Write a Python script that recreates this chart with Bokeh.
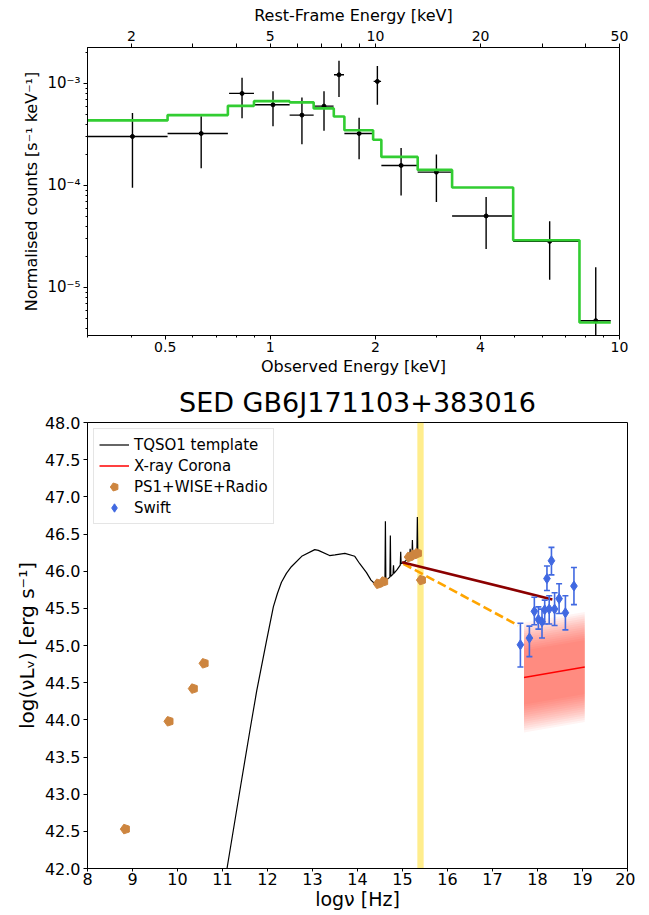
import numpy as np
from bokeh.plotting import figure
from bokeh.models import (ColumnDataSource, LogAxis, Range1d, FixedTicker, CustomJSTickFormatter,
                          Whisker, TeeHead, BoxAnnotation, Legend, LegendItem, LogScale,
                          NumeralTickFormatter)
from bokeh.layouts import column
from bokeh.embed import file_html
from bokeh.resources import INLINE

FONT = "DejaVu Sans"

# ---------------- top panel data (X-ray spectrum) ----------------
e_cen = [0.403, 0.634, 0.830, 1.018, 1.232, 1.425, 1.573, 1.796, 2.026, 2.369, 2.99, 4.15, 6.31, 8.55]
e_lo = [0.30, 0.508, 0.762, 0.898, 1.136, 1.331, 1.522, 1.63, 1.977, 2.08, 2.643, 3.316, 4.96, 7.68]
e_hi = [0.508, 0.756, 0.898, 1.136, 1.331, 1.518, 1.626, 1.964, 2.076, 2.643, 3.316, 4.96, 7.68, 9.44]
cts = [3.02e-4, 3.23e-4, 7.98e-4, 6.17e-4, 4.89e-4, 5.99e-4, 1.215e-3, 3.23e-4, 1.047e-3,
       1.57e-4, 1.35e-4, 5.02e-5, 2.83e-5, 4.72e-6]
cts_hi = [5.14e-4, 4.78e-4, 1.135e-3, 8.4e-4, 7.29e-4, 8.4e-4, 1.667e-3, 4.6e-4, 1.48e-3,
          2.33e-4, 2.01e-4, 7.7e-5, 4.45e-5, 1.58e-5]
cts_lo = [9.5e-5, 1.47e-4, 4.56e-4, 3.81e-4, 2.54e-4, 3.43e-4, 7.38e-4, 1.81e-4, 6.17e-4,
          7.96e-5, 6.89e-5, 2.38e-5, 1.19e-5, 1.0e-6]
model_edges = [0.30, 0.508, 0.756, 0.898, 1.136, 1.331, 1.52, 1.63, 1.97, 2.08, 2.643, 3.316, 4.96, 7.68, 9.44]
model_vals = [4.34e-4, 4.89e-4, 6.03e-4, 6.7e-4, 6.52e-4, 5.69e-4, 4.74e-4, 3.48e-4, 2.80e-4,
              1.905e-4, 1.42e-4, 9.55e-5, 2.9e-5, 4.54e-6]
redshift = 4.0
obs_ticks = [0.5, 1, 2, 4, 10]
obs_minor = [0.3, 0.4, 0.6, 0.7, 0.8, 0.9, 3, 5, 6, 7, 8, 9]
rest_ticks = [2, 5, 10, 20, 50]
rest_minor = [3, 4, 6, 7, 8, 9, 30, 40]
cts_ticks = [1e-5, 1e-4, 1e-3]

# ---------------- bottom panel data (SED) ----------------
tqso_nu = [10.95, 11.10, 11.40, 11.61, 11.76, 11.98, 12.13, 12.22, 12.31, 12.42, 12.53, 12.76,
           13.05, 13.13, 13.38, 13.50, 13.72, 13.94, 14.05, 14.20, 14.30, 14.42, 14.50, 14.58,
           14.61, 14.62, 14.63, 14.68, 14.72, 14.73, 14.74, 14.79, 14.80, 14.81, 14.88, 14.95,
           14.96, 14.97, 15.05, 15.12, 15.16, 15.17, 15.18, 15.21, 15.22, 15.23, 15.28, 15.32,
           15.33, 15.34, 15.38]
tqso_L = [41.45, 42.00, 43.10, 43.86, 44.39, 45.07, 45.52, 45.70, 45.85, 45.97, 46.06, 46.20,
          46.29, 46.28, 46.21, 46.22, 46.24, 46.20, 46.10, 45.98, 45.88, 45.81, 45.82, 45.86,
          45.87, 46.67, 45.88, 45.90, 45.92, 46.48, 45.93, 45.96, 46.08, 45.97, 46.02, 46.08,
          46.26, 46.10, 46.13, 46.16, 46.18, 46.30, 46.19, 46.20, 46.42, 46.21, 46.23, 46.25,
          46.73, 46.26, 46.28]
ps1_nu = [8.84, 9.81, 10.35, 10.59, 14.46, 14.58, 15.15, 15.25, 15.33, 15.42]
ps1_L = [42.53, 43.98, 44.42, 44.76, 45.83, 45.86, 46.19, 46.22, 46.24, 45.88]
swift_nu = [17.62, 17.82, 17.93, 18.02, 18.10, 18.16, 18.21, 18.26, 18.31, 18.38, 18.48, 18.62, 18.81]
swift_L = [45.01, 45.10, 45.46, 45.35, 45.32, 45.48, 45.90, 45.49, 46.14, 45.49, 45.63, 45.44, 45.80]
swift_hi = [45.30, 45.26, 45.65, 45.52, 45.49, 45.61, 46.07, 45.67, 46.32, 45.71, 45.83, 45.67, 46.05]
swift_lo = [44.71, 44.85, 45.28, 45.22, 45.10, 45.29, 45.74, 45.29, 45.95, 45.27, 45.43, 45.21, 45.55]
corona_nu = [17.70, 19.05]
corona_L = [44.57, 44.71]
corona_halfwidth = 0.74
aox_obs_nu = [14.99, 18.33]
aox_obs_L = [46.12, 45.62]
aox_exp_nu = [15.02, 17.57]
aox_exp_L = [46.10, 45.27]
uv_band = [15.33, 15.47]
sed_xticks = list(range(8, 21))
sed_yticks = [42.0, 42.5, 43.0, 43.5, 44.0, 44.5, 45.0, 45.5, 46.0, 46.5, 47.0, 47.5, 48.0]


def style_axis(ax, tick_px, label_px, std1=3, std2=3):
    ax.major_label_text_font = FONT
    ax.axis_label_text_font = FONT
    ax.major_label_text_font_size = tick_px
    ax.axis_label_text_font_size = label_px
    ax.axis_label_text_font_style = "normal"
    ax.major_label_text_color = "black"
    ax.axis_label_text_color = "black"
    ax.major_tick_in = 0
    ax.major_tick_out = 4
    ax.minor_tick_in = 0
    ax.minor_tick_out = 2
    ax.major_tick_line_color = "black"
    ax.minor_tick_line_color = "black"
    ax.axis_line_color = "black"
    ax.major_label_standoff = std1
    ax.axis_label_standoff = std2


# ================= top panel =================
p1 = figure(frame_width=532, frame_height=288, x_axis_type="log", y_axis_type="log",
            x_range=Range1d(0.2996, 10.0), y_range=Range1d(3.38e-6, 2.25e-3),
            output_backend="svg", toolbar_location=None,
            min_border_left=87, min_border_right=20, min_border_top=47, min_border_bottom=44)
p1.xgrid.visible = False
p1.ygrid.visible = False
p1.outline_line_color = "black"
p1.outline_line_alpha = 1.0

xa = p1.below[0]
ya = p1.left[0]

xa.axis_label = "Observed Energy [keV]"
xa.ticker = FixedTicker(ticks=obs_ticks, minor_ticks=obs_minor)
xa.formatter = CustomJSTickFormatter(code="return tick.toString();")
style_axis(xa, "14px", "16px", 2, 2)

ya.axis_label = "Normalised counts [s\u207b\u00b9 keV\u207b\u00b9]"
minor_y = [k * 10.0 ** e for e in (-6, -5, -4, -3) for k in range(2, 10)]
ya.ticker = FixedTicker(ticks=cts_ticks, minor_ticks=minor_y)
ya.formatter = CustomJSTickFormatter(code="""
const e = Math.round(Math.log10(tick));
const m = {'-':'\u207b','0':'\u2070','1':'\u00b9','2':'\u00b2','3':'\u00b3','4':'\u2074',
           '5':'\u2075','6':'\u2076','7':'\u2077','8':'\u2078','9':'\u2079'};
return '10' + String(e).split('').map(c => m[c]).join('');
""")
style_axis(ya, "15px", "16px")

p1.extra_x_ranges = {"rest": Range1d(0.2996 * (1 + redshift), 10.0 * (1 + redshift))}
p1.extra_x_scales = {"rest": LogScale()}
top_ax = LogAxis(x_range_name="rest", axis_label="Rest-Frame Energy [keV]")
top_ax.ticker = FixedTicker(ticks=rest_ticks, minor_ticks=rest_minor)
top_ax.formatter = CustomJSTickFormatter(code="return tick.toString();")
style_axis(top_ax, "14px", "16px")
top_ax.minor_tick_out = 4
p1.add_layout(top_ax, "above")

src1 = ColumnDataSource(dict(e=e_cen, lo=e_lo, hi=e_hi, c=cts, clo=cts_lo, chi=cts_hi))
p1.segment(x0="lo", y0="c", x1="hi", y1="c", source=src1, line_color="black", line_width=1.4)
p1.segment(x0="e", y0="clo", x1="e", y1="chi", source=src1, line_color="black", line_width=1.4)
p1.scatter(x="e", y="c", source=src1, size=4, color="black")
p1.step(x=model_edges, y=model_vals + [model_vals[-1]], mode="after",
        line_color="limegreen", line_width=2.6)

# ================= bottom panel =================
p2 = figure(frame_width=540, frame_height=446, x_range=Range1d(8, 20), y_range=Range1d(42, 48),
            output_backend="svg", toolbar_location=None, title="SED GB6J171103+383016",
            min_border_left=85, min_border_right=10, min_border_top=40, min_border_bottom=30)
p2.xgrid.visible = False
p2.ygrid.visible = False
p2.outline_line_color = "black"
p2.title.text_font = FONT
p2.title.text_font_size = "27px"
p2.title.text_font_style = "normal"
p2.title.text_color = "black"
p2.title.align = "center"

xb = p2.below[0]
xb.axis_label = "log\u03bd [Hz]"
xb.ticker = FixedTicker(ticks=sed_xticks, minor_ticks=[])
style_axis(xb, "16px", "19px", 1, 0)
xb.major_tick_out = 3
yb = p2.left[0]
yb.axis_label = "log(\u03bdL\u1d65) [erg s\u207b\u00b9]"
yb.ticker = FixedTicker(ticks=sed_yticks, minor_ticks=[])
yb.formatter = NumeralTickFormatter(format="0.0")
style_axis(yb, "16px", "20px")

band = BoxAnnotation(left=uv_band[0], right=uv_band[1], fill_color="gold", fill_alpha=0.45,
                     line_color=None, level="underlay")
p2.add_layout(band)

# corona uncertainty band (gradient through stacked layers)
cn = np.array(corona_nu)
cl = np.array(corona_L)
nlay = 14
for k in range(nlay):
    off = corona_halfwidth * (0.45 + 0.55 * (k + 1) / nlay)
    p2.varea(x=cn, y1=cl - off, y2=cl + off, fill_color="#ff2a1a", fill_alpha=0.052)

r_tqso = p2.line(tqso_nu, tqso_L, line_color="black", line_width=1.2)
p2.line(aox_exp_nu, aox_exp_L, line_color="orange", line_width=2.6, line_dash="9 4")
p2.line(aox_obs_nu, aox_obs_L, line_color="darkred", line_width=2.6)
r_cor = p2.line(corona_nu, corona_L, line_color="red", line_width=1.5)

ps_src = ColumnDataSource(dict(x=ps1_nu, y=ps1_L))
r_ps1 = p2.ngon(x="x", y="y", radius=5, radius_units="screen", n=5, angle=np.pi / 2,
                source=ps_src, fill_color="peru", line_color="peru")

sw_src = ColumnDataSource(dict(x=swift_nu, y=swift_L, lo=swift_lo, hi=swift_hi))
wh = Whisker(base="x", upper="hi", lower="lo", source=sw_src, dimension="height",
             line_color="royalblue", line_width=1.6, level="glyph",
             upper_head=TeeHead(size=6, line_color="royalblue", line_width=1.6),
             lower_head=TeeHead(size=6, line_color="royalblue", line_width=1.6))
p2.add_layout(wh)
r_sw = p2.scatter(x="x", y="y", source=sw_src, marker="diamond", size=10,
                  fill_color="royalblue", line_color="royalblue")

legend = Legend(items=[LegendItem(label="TQSO1 template", renderers=[r_tqso]),
                       LegendItem(label="X-ray Corona", renderers=[r_cor]),
                       LegendItem(label="PS1+WISE+Radio", renderers=[r_ps1]),
                       LegendItem(label="Swift", renderers=[r_sw])],
                location="top_left")
legend.label_text_font = FONT
legend.label_text_font_size = "15px"
legend.label_text_color = "black"
legend.glyph_width = 30
legend.glyph_height = 21
legend.label_height = 21
legend.spacing = 0
legend.padding = 5
legend.margin = 6
legend.border_line_color = "#cccccc"
legend.background_fill_alpha = 0.8
p2.add_layout(legend)

layout = column(p1, p2, spacing=0)
open("out.html", "w").write(file_html(layout, INLINE))
